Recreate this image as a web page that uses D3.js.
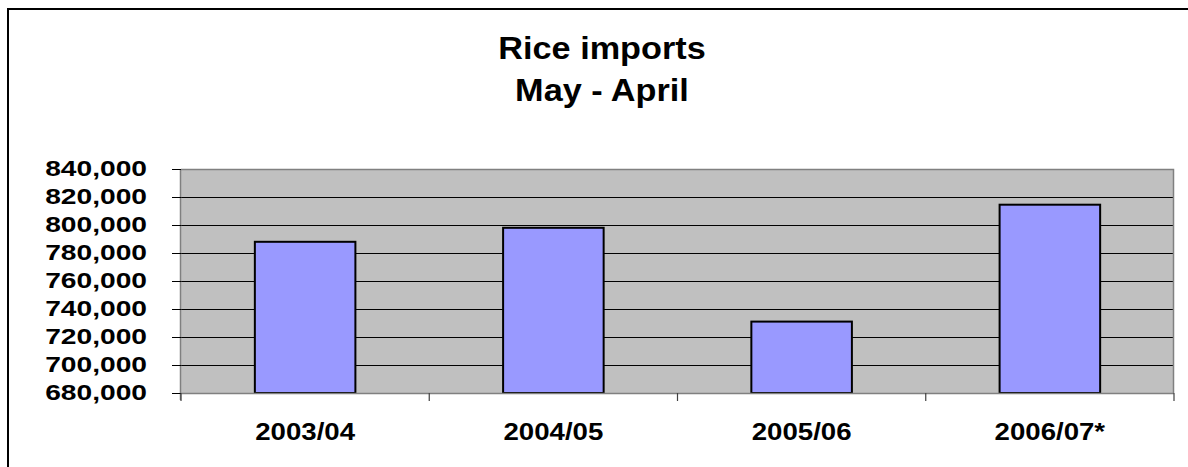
<!DOCTYPE html>
<html>
<head>
<meta charset="utf-8">
<style>
    body { margin: 0; background: #fff; }
    svg { display: block; font-family: Arial, "Liberation Sans", sans-serif; }
    .title { font-size: 32px; font-weight: bold; }
    .y-label { font-size: 22px; font-weight: bold; }
    .x-label { font-size: 24px; font-weight: bold; }
</style>
</head>
<body>
<svg width="1188" height="467"></svg>

<script src="https://d3js.org/d3.v7.min.js"></script>
<script>
    const seasons = ["2003/04", "2004/05", "2005/06", "2006/07*"];
    const imports = [788000, 798000, 731000, 814500];
    const yTicks = [680000, 700000, 720000, 740000, 760000, 780000, 800000, 820000, 840000];
    const titleLines = ["Rice imports", "May - April"];

    const svg = d3.select("svg");
    const margin = { top: 169, right: 14, bottom: 74, left: 181 };
    const width = 1188 - margin.left - margin.right;
    const height = 467 - margin.top - margin.bottom;

    // outer chart frame (runs off the right/bottom edge)
    svg.append("rect")
        .attr("x", 8).attr("y", 9)
        .attr("width", 1300).attr("height", 600)
        .attr("fill", "none").attr("stroke", "#000").attr("stroke-width", 2);

    // title
    svg.selectAll(".title")
        .data(titleLines)
        .join("text")
        .attr("class", "title")
        .attr("x", 602)
        .attr("y", (d, i) => 59 + i * 42)
        .attr("text-anchor", "middle")
        .text(d => d)
        .each(function () { d3.select(this).attr("textLength", this.getComputedTextLength() * 1.07).attr("lengthAdjust", "spacingAndGlyphs") });

    const x = d3.scaleBand().domain(seasons).range([0, width]).padding(0);
    const y = d3.scaleLinear().domain([680000, 840000]).range([height, 0]);

    const g = svg.append("g").attr("transform", `translate(${margin.left},${margin.top})`);

    g.append("rect")
        .attr("width", width).attr("height", height)
        .attr("fill", "#c0c0c0");

    // gridlines
    g.append("g")
        .selectAll("line")
        .data(yTicks.slice(1))
        .join("line")
        .attr("x1", 0).attr("x2", width)
        .attr("y1", d => Math.round(y(d)) + 0.5).attr("y2", d => Math.round(y(d)) + 0.5)
        .attr("stroke", "#000").attr("stroke-width", 1.2);

    // plot border top/right
    g.append("path")
        .attr("d", `M0,0.5H${width - 0.5}V${height}`)
        .attr("fill", "none").attr("stroke", "#808080").attr("stroke-width", 1.5);

    // bars
    const barW = x.bandwidth() * 0.405;
    g.append("g")
        .selectAll("rect")
        .data(imports)
        .join("rect")
        .attr("x", (d, i) => x(seasons[i]) + (x.bandwidth() - barW) / 2)
        .attr("y", d => y(d))
        .attr("width", barW)
        .attr("height", d => height - y(d))
        .attr("fill", "#9999ff")
        .attr("stroke", "#000").attr("stroke-width", 2);

    // y axis
    const yAxis = g.append("g")
        .call(d3.axisLeft(y).tickValues(yTicks).tickSize(9).tickFormat(""));
    yAxis.select(".domain").attr("stroke", "#808080").attr("stroke-width", 1.5)
        .attr("d", `M-0.5,0V${height + 7}`);
    yAxis.selectAll(".tick line").attr("stroke", "#000");

    g.append("g")
        .selectAll("text")
        .data(yTicks)
        .join("text")
        .attr("class", "y-label")
        .attr("x", -34)
        .attr("y", d => y(d) + 7)
        .attr("text-anchor", "end")
        .text(d => d3.format(",")(d))
        .each(function () { d3.select(this).attr("textLength", this.getComputedTextLength() * 1.28).attr("lengthAdjust", "spacingAndGlyphs") });

    // x axis with ticks on category boundaries
    const bounds = seasons.map(s => x(s)).concat([width]);
    g.append("line")
        .attr("x1", 0).attr("x2", width)
        .attr("y1", height + 0.5).attr("y2", height + 0.5)
        .attr("stroke", "#808080").attr("stroke-width", 1.5);
    g.append("g")
        .selectAll("line")
        .data(bounds)
        .join("line")
        .attr("x1", d => d).attr("x2", d => d)
        .attr("y1", height).attr("y2", height + 8)
        .attr("stroke", "#404040").attr("stroke-width", 1.2);

    g.append("g")
        .selectAll("text")
        .data(seasons)
        .join("text")
        .attr("class", "x-label")
        .attr("x", d => x(d) + x.bandwidth() / 2)
        .attr("y", height + 47)
        .attr("text-anchor", "middle")
        .text(d => d)
        .each(function () { d3.select(this).attr("textLength", this.getComputedTextLength() * 1.15).attr("lengthAdjust", "spacingAndGlyphs") });
</script>
</body>
</html>
